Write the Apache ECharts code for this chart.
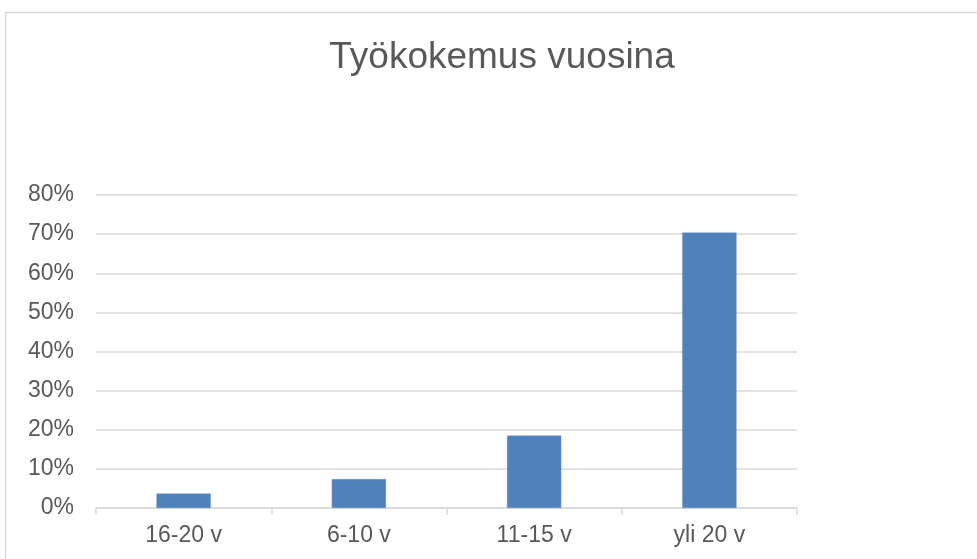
<!DOCTYPE html>
<html>
<head>
<meta charset="utf-8">
<script src="https://cdn.jsdelivr.net/npm/echarts@6/dist/echarts.min.js"></script>
<style>
  html, body { margin: 0; padding: 0; background: #fff; }
  #chart { width: 977px; height: 559px; }
</style>
</head>
<body>
<div id="chart"></div>
<script>
// kategoriat ja osuudet (%)
const categories = ['16-20 v', '6-10 v', '11-15 v', 'yli 20 v']
const values = [3.7, 7.4, 18.5, 70.4]
const yTicks = [0, 10, 20, 30, 40, 50, 60, 70, 80]

const textColor = '#595959'
const lineColor = '#d9d9d9'

let myChart = echarts.init(document.getElementById('chart'))
let option = {
  backgroundColor: '#fff',
  animation: false,
  textStyle: { fontFamily: 'Liberation Sans, Arial, sans-serif' },
  // kaavion reunaviiva
  graphic: [
    {
      type: 'rect',
      shape: { x: 5.5, y: 12.5, width: 1000, height: 600 },
      style: { fill: 'none', stroke: lineColor, lineWidth: 1.5 },
      silent: true
    }
  ],
  title: {
    text: 'Työkokemus vuosina',
    left: 497,
    textAlign: 'center',
    top: 34,
    textStyle: {
      color: textColor,
      fontSize: 37,
      fontWeight: 'normal',
      fontFamily: 'Liberation Sans, Arial, sans-serif'
    }
  },
  grid: { left: 96, right: 180, top: 195, bottom: 51 },
  xAxis: {
    type: 'category',
    data: categories,
    axisLine: { lineStyle: { color: lineColor, width: 1.5 } },
    axisTick: { show: true, length: 7, lineStyle: { color: lineColor, width: 1.5 } },
    axisLabel: { color: textColor, fontSize: 23, margin: 16 }
  },
  yAxis: {
    type: 'value',
    min: yTicks[0],
    max: yTicks[yTicks.length - 1],
    interval: 10,
    axisLine: { show: false },
    axisTick: { show: false },
    axisLabel: { color: textColor, fontSize: 23, margin: 22, formatter: '{value}%' },
    splitLine: { lineStyle: { color: lineColor, width: 1.5 } }
  },
  series: [
    {
      type: 'bar',
      data: values,
      barWidth: '31%',
      itemStyle: { color: '#4f81bd', borderColor: '#6f97c9', borderWidth: 0.5 }
    }
  ]
}
myChart.setOption(option)
</script>
</body>
</html>
